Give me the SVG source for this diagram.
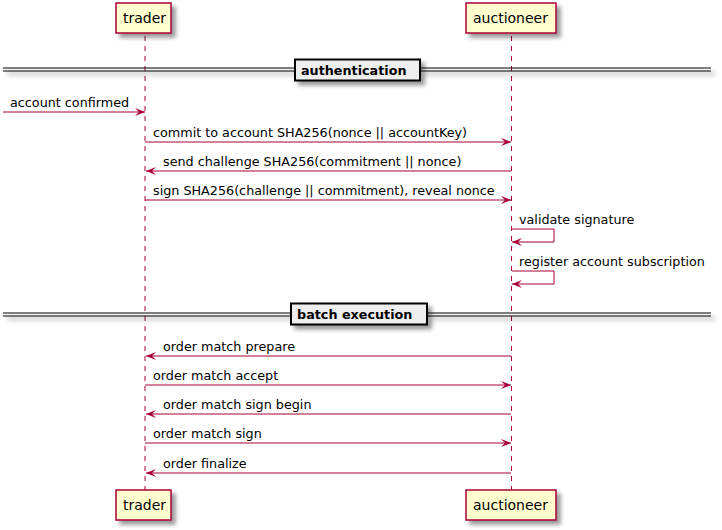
<svg xmlns="http://www.w3.org/2000/svg" width="722" height="530" viewBox="0 0 722 530">
<defs>
<filter id="sh" x="-1" y="-1" width="300%" height="300%">
<feGaussianBlur in="SourceAlpha" stdDeviation="2" result="b"/>
<feColorMatrix in="b" type="matrix" values="0 0 0 0 0 0 0 0 0 0 0 0 0 0 0 0 0 0 0.4 0" result="c"/>
<feOffset in="c" dx="4" dy="4" result="o"/>
<feMerge><feMergeNode in="o"/><feMergeNode in="SourceGraphic"/></feMerge>
</filter>
<marker id="ah" viewBox="0 0 10 8" refX="10" refY="4" markerWidth="10" markerHeight="8" markerUnits="userSpaceOnUse" orient="auto">
<polygon points="0,0 10,4 0,8 4,4" fill="#A80036"/>
</marker>
</defs>
<style>
.p rect{fill:#FEFECE;stroke:#A80036;stroke-width:1.5;}
.p text{font-family:"DejaVu Sans",sans-serif;font-size:14px;fill:#000;}
.life{stroke:#A80036;stroke-width:1;stroke-dasharray:5,5;}
.m{stroke:#A80036;stroke-width:1;fill:none;marker-end:url(#ah);}
.t{font-family:"DejaVu Sans",sans-serif;font-size:12.75px;fill:#000;}
.dl{stroke:#000;stroke-width:1;}
.db{fill:#EEEEEE;stroke:#000;stroke-width:2;}
.dt{font-family:"DejaVu Sans",sans-serif;font-size:12.75px;font-weight:bold;fill:#000;}
</style>
<rect width="722" height="530" fill="#fff"/>
<g id="lifelines">
<line class="life" x1="145" y1="36" x2="145" y2="490"/>
<line class="life" x1="511.5" y1="36" x2="511.5" y2="490"/>
</g>
<g id="trader" class="p">
<rect x="116" y="3" width="55" height="30" filter="url(#sh)"/>
<text x="123" y="23">trader</text>
<rect x="116" y="490" width="55" height="30" filter="url(#sh)"/>
<text x="123" y="510">trader</text>
</g>
<g id="auctioneer" class="p">
<rect x="466" y="3" width="90" height="30" filter="url(#sh)"/>
<text x="473" y="23">auctioneer</text>
<rect x="466" y="490" width="90" height="30" filter="url(#sh)"/>
<text x="473" y="510">auctioneer</text>
</g>
<g id="divider-authentication">
<g filter="url(#sh)">
<line class="dl" x1="3" y1="68" x2="711" y2="68"/>
<line class="dl" x1="3" y1="71" x2="711" y2="71"/>
<rect class="db" x="295" y="59.5" width="125" height="21"/>
</g>
<text class="dt" x="301" y="75">authentication</text>
</g>
<g id="divider-batch">
<g filter="url(#sh)">
<line class="dl" x1="3" y1="313" x2="711" y2="313"/>
<line class="dl" x1="3" y1="316" x2="711" y2="316"/>
<rect class="db" x="291" y="303.5" width="136" height="21"/>
</g>
<text class="dt" x="297" y="319">batch execution</text>
</g>
<g id="connectors">
<line class="m" x1="3" y1="112" x2="145" y2="112"/>
<text class="t" x="10" y="107">account confirmed</text>
<line class="m" x1="145" y1="142" x2="511" y2="142"/>
<text class="t" x="153" y="137">commit to account SHA256(nonce || accountKey)</text>
<line class="m" x1="511" y1="171" x2="146" y2="171"/>
<text class="t" x="163" y="166">send challenge SHA256(commitment || nonce)</text>
<line class="m" x1="145" y1="200" x2="511" y2="200"/>
<text class="t" x="153" y="195">sign SHA256(challenge || commitment), reveal nonce</text>
<polyline class="m" points="512,229 554,229 554,242 512,242"/>
<text class="t" x="519" y="224">validate signature</text>
<polyline class="m" points="512,271 554,271 554,284 512,284"/>
<text class="t" x="519" y="266">register account subscription</text>
<line class="m" x1="511" y1="356" x2="146" y2="356"/>
<text class="t" x="163" y="351">order match prepare</text>
<line class="m" x1="145" y1="385" x2="511" y2="385"/>
<text class="t" x="153" y="380">order match accept</text>
<line class="m" x1="511" y1="414" x2="146" y2="414"/>
<text class="t" x="163" y="409">order match sign begin</text>
<line class="m" x1="145" y1="443" x2="511" y2="443"/>
<text class="t" x="153" y="438">order match sign</text>
<line class="m" x1="511" y1="473" x2="146" y2="473"/>
<text class="t" x="163" y="468">order finalize</text>
</g>
</svg>
